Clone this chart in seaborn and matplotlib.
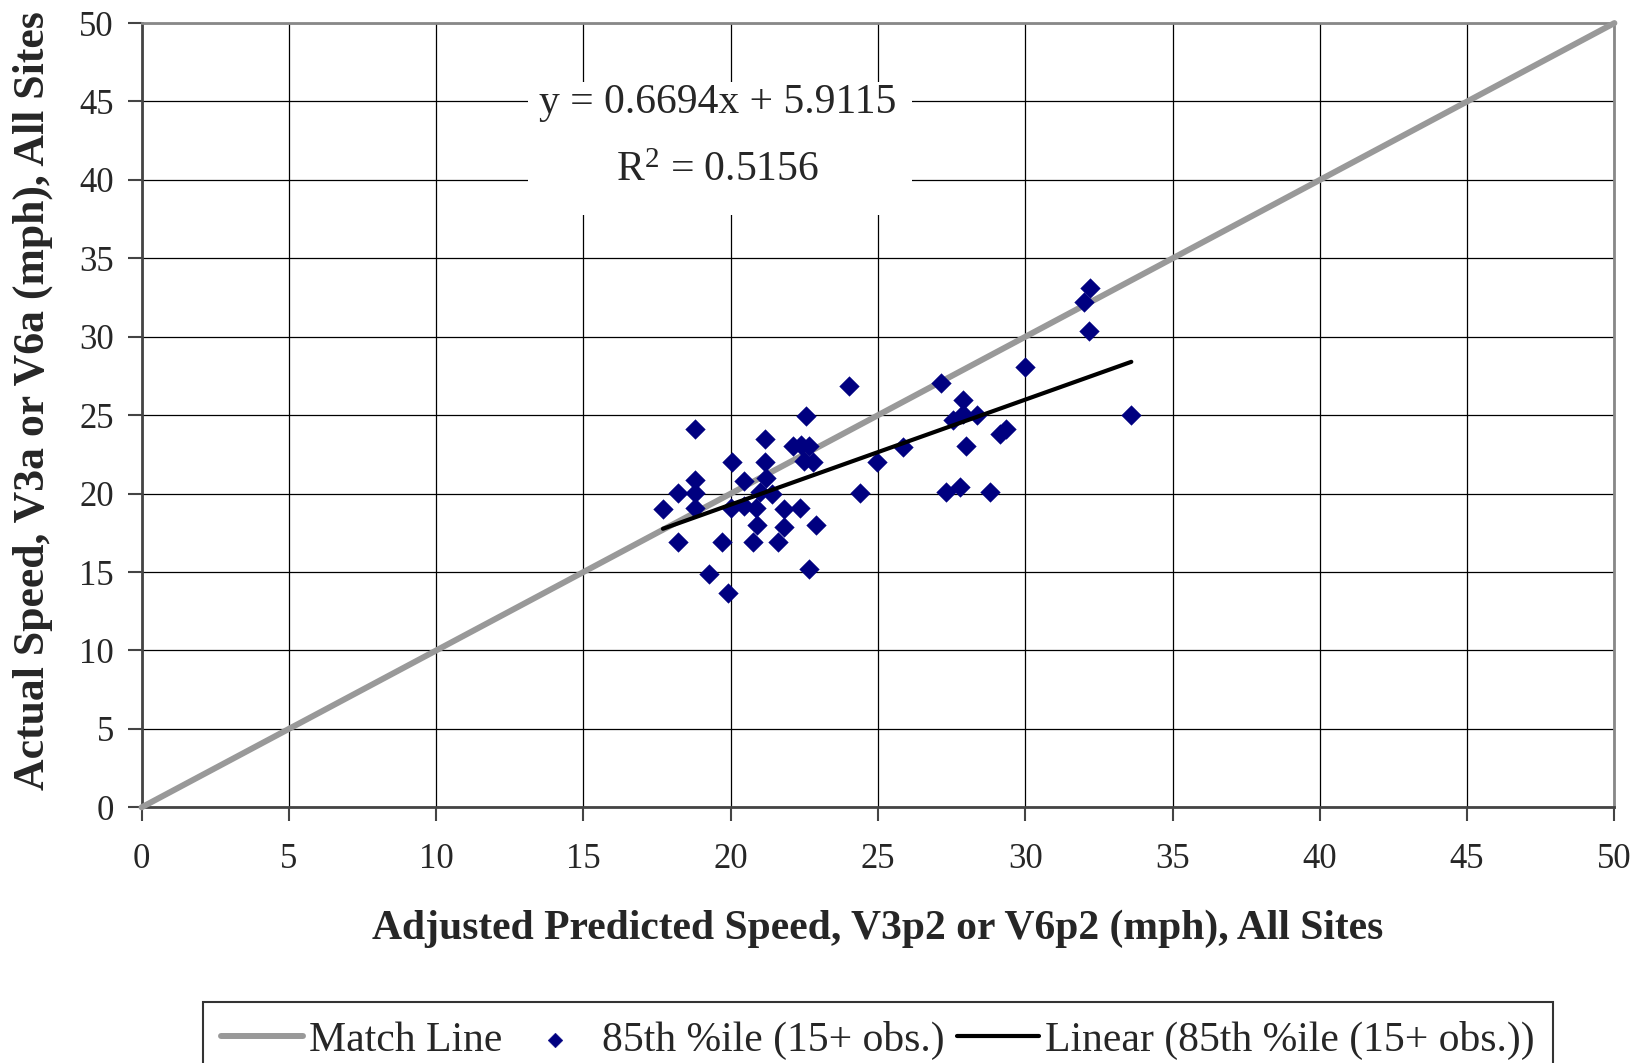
import seaborn as sns
import matplotlib.pyplot as plt
import pandas as pd
from matplotlib.patches import Rectangle

# 85th percentile speeds, predicted (x) vs actual (y), mph
pred_speed = [17.7, 18.2, 18.2, 18.8, 18.8, 18.8, 18.8, 19.25, 19.7, 19.9,
              20.05, 20.0, 20.45, 20.45, 20.85, 20.75, 20.9, 21.0, 21.15, 21.15,
              21.2, 21.4, 21.6, 21.8, 21.8, 22.1, 22.4, 22.35, 22.55, 22.5,
              22.65, 22.8, 22.65, 22.9, 24.0, 24.4, 24.95, 25.85, 27.15, 27.3,
              27.55, 27.8, 27.9, 27.9, 28.0, 28.35, 28.8, 29.15, 29.35, 30.0,
              32.0, 32.2, 32.15, 33.6]
actual_speed = [19.05, 20.05, 16.9, 24.1, 20.85, 20.05, 19.1, 14.85, 16.9, 13.65,
                22.0, 19.1, 20.8, 19.2, 19.1, 16.9, 18.0, 20.1, 23.5, 22.0,
                21.0, 20.0, 16.9, 19.05, 17.9, 23.05, 23.1, 19.1, 24.95, 22.1,
                23.05, 22.0, 15.2, 18.0, 26.85, 20.05, 22.0, 23.0, 27.05, 20.1,
                24.7, 20.45, 26.0, 25.05, 23.05, 25.0, 20.1, 23.8, 24.1, 28.1,
                32.2, 33.1, 30.35, 25.0]

match_x = [0, 50]
match_y = [0, 50]

slope = 0.6694
intercept = 5.9115
r_squared = 0.5156

sns.set_style('white')
plt.rcParams['font.family'] = ['Liberation Serif', 'DejaVu Serif']
plt.rcParams['mathtext.fontset'] = 'custom'
plt.rcParams['mathtext.rm'] = 'Liberation Serif'
plt.rcParams['mathtext.it'] = 'Liberation Serif:italic'

fig, ax = plt.subplots(figsize=(16.44, 10.63), dpi=100)
fig.subplots_adjust(left=0.0861, right=0.982, bottom=0.2405, top=0.9783)

pts = pd.DataFrame({'x': pred_speed, 'y': actual_speed})
fit_x = [min(pred_speed), max(pred_speed)]
fit = pd.DataFrame({'x': fit_x, 'y': [slope * v + intercept for v in fit_x]})

sns.lineplot(x=match_x, y=match_y, ax=ax, color='#999999', linewidth=4.3,
             solid_capstyle='round', label='Match Line', zorder=3, clip_on=False)
sns.scatterplot(data=pts, x='x', y='y', ax=ax, marker='D', s=100, color='#000080',
                edgecolor='#000080', linewidth=0.3, label='85th %ile (15+ obs.)', zorder=4)
sns.lineplot(data=fit, x='x', y='y', ax=ax, color='black', linewidth=3.0,
             label='Linear (85th %ile (15+ obs.))', zorder=5)

ax.set_xlim(0, 50)
ax.set_ylim(0, 50)
ax.set_xticks(range(0, 51, 5))
ax.set_yticks(range(0, 51, 5))
ax.grid(True, color='black', linewidth=0.9)
ax.set_axisbelow(True)
for side in ['top', 'right']:
    ax.spines[side].set_color('#888888')
    ax.spines[side].set_linewidth(2)
for side in ['left', 'bottom']:
    ax.spines[side].set_color('#444444')
    ax.spines[side].set_linewidth(2)
ax.tick_params(axis='both', direction='out', length=10, width=1.5, color='#444444',
               labelsize=25, bottom=True, left=True)
ax.tick_params(axis='x', pad=16)
ax.tick_params(axis='y', pad=10)

ax.set_xlabel('Adjusted Predicted Speed, V3p2 or V6p2 (mph), All Sites',
              fontsize=30, fontweight='bold', labelpad=24)
ax.set_ylabel('')
fig.text(0.020, 0.257, 'Actual Speed, V3a or V6a (mph), All Sites', rotation=90,
         ha='center', va='bottom', fontsize=31.5, fontweight='bold')

# white box behind the trendline equation
ax.add_patch(Rectangle((13.12, 37.77), 13.03, 8.5, facecolor='white',
                       edgecolor='none', zorder=5.5))
ax.text(19.55, 44.9, f'y = {slope:.4f}x + {intercept:.4f}', ha='center', va='center',
        fontsize=30, zorder=6)
ax.text(19.55, 40.6, f'R$^{{2}}$ = {r_squared:.4f}', ha='center', va='center',
        fontsize=30, zorder=6)

ax.get_legend().remove()
handles, labels = ax.get_legend_handles_labels()
leg = fig.legend(handles, labels, loc='upper center', bbox_to_anchor=(0.534, 0.0575),
                 ncol=3, fontsize=30, frameon=True, fancybox=False, edgecolor='black',
                 handlelength=1.95, columnspacing=0.3, handletextpad=0.15,
                 borderpad=0.45, borderaxespad=0, markerscale=0.75)
leg.get_frame().set_linewidth(1.5)

plt.savefig('out.png', dpi=100)
